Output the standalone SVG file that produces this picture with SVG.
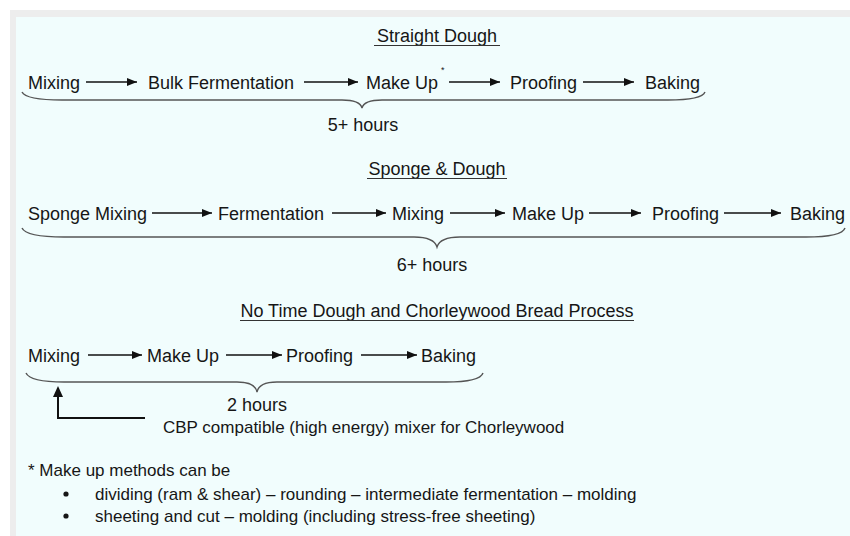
<svg xmlns="http://www.w3.org/2000/svg" width="850" height="536" viewBox="0 0 850 536">
<defs>
<marker id="ah" viewBox="0 0 10 8" refX="10" refY="4" markerWidth="10" markerHeight="8" markerUnits="userSpaceOnUse" orient="auto">
<path d="M0,0 L10,4 L0,8 z" fill="#111"/>
</marker>
</defs>
<style>
text{font-family:"Liberation Sans",Arial,sans-serif;font-size:18px;fill:#161616}
.t{text-anchor:middle}
.ul{stroke:#333;stroke-width:1.2}
.ar{stroke:#111;stroke-width:1.5;fill:none;marker-end:url(#ah)}
.br{stroke:#555;stroke-width:1.4;fill:none}
.fn{font-size:17px}
</style>
<rect x="0" y="0" width="850" height="536" fill="#ffffff"/>
<rect x="10" y="10" width="840" height="526" fill="#ededed"/>
<rect x="16" y="17" width="834" height="519" fill="#f1fdfd"/>

<g id="title1"><text class="t" x="437" y="42">Straight Dough</text><line class="ul" x1="374" y1="45.5" x2="500" y2="45.5"/></g>
<g id="sd-mixing"><text x="28" y="89">Mixing</text></g>
<g id="sd-bulk"><text x="148" y="89">Bulk Fermentation</text></g>
<g id="sd-makeup"><text x="366" y="89">Make Up</text><text x="441" y="73" style="font-size:9px">*</text></g>
<g id="sd-proofing"><text x="510" y="89">Proofing</text></g>
<g id="sd-baking"><text x="645" y="89">Baking</text></g>
<g id="sd-time"><text class="t" x="363" y="131">5+ hours</text></g>

<g id="title2"><text class="t" x="437" y="175">Sponge &amp; Dough</text><line class="ul" x1="367" y1="178.5" x2="507" y2="178.5"/></g>
<g id="sp-sponge"><text x="28" y="220">Sponge Mixing</text></g>
<g id="sp-ferm"><text x="218" y="220">Fermentation</text></g>
<g id="sp-mixing"><text x="392" y="220">Mixing</text></g>
<g id="sp-makeup"><text x="512" y="220">Make Up</text></g>
<g id="sp-proofing"><text x="652" y="220">Proofing</text></g>
<g id="sp-baking"><text x="790" y="220">Baking</text></g>
<g id="sp-time"><text class="t" x="432" y="271">6+ hours</text></g>

<g id="title3"><text class="t" x="437" y="317">No Time Dough and Chorleywood Bread Process</text><line class="ul" x1="240" y1="320.5" x2="634" y2="320.5"/></g>
<g id="nt-mixing"><text x="28" y="362">Mixing</text></g>
<g id="nt-makeup"><text x="147" y="362">Make Up</text></g>
<g id="nt-proofing"><text x="286" y="362">Proofing</text></g>
<g id="nt-baking"><text x="421" y="362">Baking</text></g>
<g id="nt-time"><text class="t" x="257" y="411">2 hours</text></g>
<g id="nt-cbp"><text class="fn" x="163" y="433">CBP compatible (high energy) mixer for Chorleywood</text></g>

<g id="footnote">
<text class="fn" x="28" y="476">* Make up methods can be</text>
<circle cx="66" cy="494" r="2.6" fill="#161616"/>
<text class="fn" x="95" y="500">dividing (ram &amp; shear) – rounding – intermediate fermentation – molding</text>
<circle cx="66" cy="516" r="2.6" fill="#161616"/>
<text class="fn" x="95" y="522">sheeting and cut – molding (including stress-free sheeting)</text>
</g>

<g id="connectors">
<line class="ar" x1="86" y1="82" x2="137" y2="82"/>
<line class="ar" x1="304" y1="82" x2="358" y2="82"/>
<line class="ar" x1="449" y1="82" x2="500" y2="82"/>
<line class="ar" x1="583" y1="82" x2="634" y2="82"/>

<line class="ar" x1="152" y1="213" x2="212" y2="213"/>
<line class="ar" x1="332" y1="213" x2="386" y2="213"/>
<line class="ar" x1="450" y1="213" x2="505" y2="213"/>
<line class="ar" x1="589" y1="213" x2="641" y2="213"/>
<line class="ar" x1="724" y1="213" x2="781" y2="213"/>

<line class="ar" x1="88" y1="355" x2="142" y2="355"/>
<line class="ar" x1="226" y1="355" x2="282" y2="355"/>
<line class="ar" x1="361" y1="355" x2="417" y2="355"/>

<path class="br" d="M22,92 Q26,100 62,100 L342,100 Q360,100 362,108 Q364,100 382,100 L668,100 Q702,100 705,92"/>
<path class="br" d="M22,228 Q26,237 64,237 L414,237 Q434,237 437,247 Q440,237 460,237 L806,237 Q842,237 845,228"/>
<path class="br" d="M26,373 Q30,382 64,382 L237,382 Q255,382 257,392 Q259,382 277,382 L446,382 Q480,382 483,373"/>

<path d="M58,388 L58,418 L145,418" fill="none" stroke="#111" stroke-width="2"/>
<path d="M58,386 L53,397 L63,397 z" fill="#111"/>
</g>
</svg>
